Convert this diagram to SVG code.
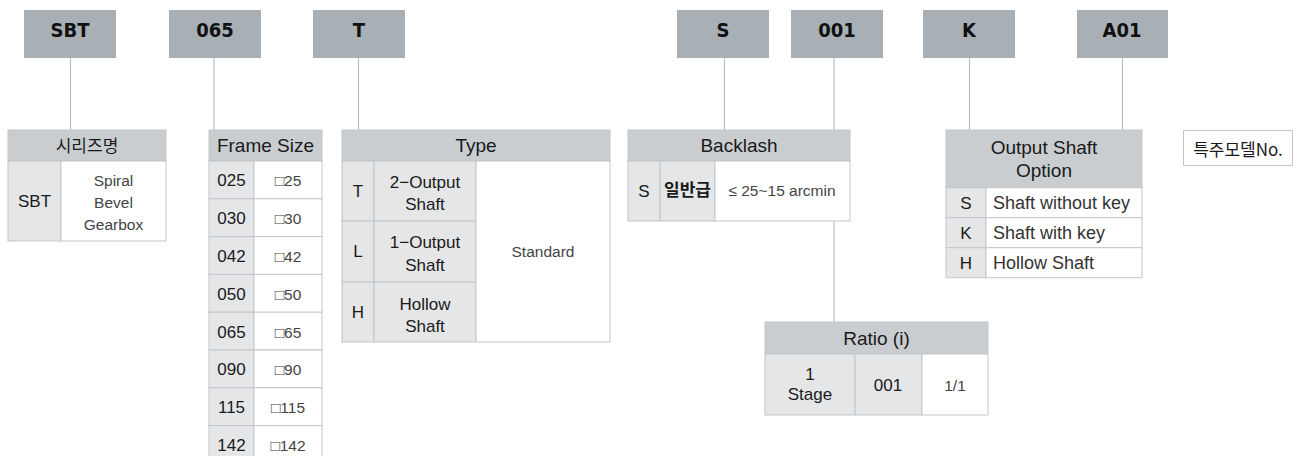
<svg xmlns="http://www.w3.org/2000/svg" width="1297" height="456" viewBox="0 0 1297 456">
<style>
.hb{fill:#a9b0b5}
.ht{font-family:"DejaVu Sans Condensed","DejaVu Sans",sans-serif;font-weight:bold;font-size:20px;fill:#111;text-anchor:middle}
.conn line{stroke:#b8bdc1;stroke-width:1.2}
.th{fill:#c9cdd0;stroke:#c2c6ca;stroke-width:1}
.tk{fill:#e4e6e8;stroke:#c2c6ca;stroke-width:1}
.tw{fill:#ffffff;stroke:#c2c6ca;stroke-width:1}
.h{font-family:"Liberation Sans",Arial,sans-serif;font-size:19px;fill:#1a1a1a;text-anchor:middle}
.k{font-family:"Liberation Sans",Arial,sans-serif;font-size:17px;fill:#1a1a1a;text-anchor:middle}
.l{font-family:"Liberation Sans",Arial,sans-serif;font-size:15.5px;fill:#444;text-anchor:middle}
.kr{font-family:"Noto Sans CJK KR",sans-serif;font-size:17px;fill:#1a1a1a;text-anchor:middle}
.o{font-family:"Liberation Sans",Arial,sans-serif;font-size:18px;fill:#333}
</style>

<g id="hdr-sbt"><rect class="hb" x="24" y="10" width="92" height="48"/><text class="ht" x="70" y="37">SBT</text></g>
<g id="hdr-065"><rect class="hb" x="169" y="10" width="92" height="48"/><text class="ht" x="215" y="37">065</text></g>
<g id="hdr-t"><rect class="hb" x="313" y="10" width="92" height="48"/><text class="ht" x="359" y="37">T</text></g>
<g id="hdr-s"><rect class="hb" x="677" y="10" width="92" height="48"/><text class="ht" x="723" y="37">S</text></g>
<g id="hdr-001"><rect class="hb" x="791" y="10" width="92" height="48"/><text class="ht" x="837" y="37">001</text></g>
<g id="hdr-k"><rect class="hb" x="923" y="10" width="92" height="48"/><text class="ht" x="969" y="37">K</text></g>
<g id="hdr-a01"><rect class="hb" x="1077" y="10" width="91" height="48"/><text class="ht" x="1122" y="37">A01</text></g>

<g class="conn" id="connectors">
<line x1="70.5" y1="58" x2="70.5" y2="130"/>
<line x1="214" y1="58" x2="214" y2="130"/>
<line x1="358.5" y1="58" x2="358.5" y2="130"/>
<line x1="724.5" y1="58" x2="724.5" y2="130"/>
<line x1="834" y1="58" x2="834" y2="322"/>
<line x1="969.5" y1="58" x2="969.5" y2="130"/>
<line x1="1122.5" y1="58" x2="1122.5" y2="130"/>
</g>

<g id="series">
<rect class="th" x="8" y="130" width="158" height="31"/>
<rect class="tk" x="8" y="161" width="53" height="80"/>
<rect class="tw" x="61" y="161" width="105" height="80"/>
<text class="kr" x="87" y="152">시리즈명</text>
<text class="k" x="34.5" y="207">SBT</text>
<text class="l" x="113.5" y="186">Spiral</text>
<text class="l" x="113.5" y="208">Bevel</text>
<text class="l" x="113.5" y="230">Gearbox</text>
</g>

<g id="frame">
<rect class="th" x="209" y="130" width="113" height="31"/>
<rect class="tk" x="209" y="161" width="45" height="37.8"/><rect class="tw" x="254" y="161" width="68" height="37.8"/>
<rect class="tk" x="209" y="198.8" width="45" height="37.8"/><rect class="tw" x="254" y="198.8" width="68" height="37.8"/>
<rect class="tk" x="209" y="236.6" width="45" height="37.8"/><rect class="tw" x="254" y="236.6" width="68" height="37.8"/>
<rect class="tk" x="209" y="274.4" width="45" height="37.8"/><rect class="tw" x="254" y="274.4" width="68" height="37.8"/>
<rect class="tk" x="209" y="312.2" width="45" height="37.8"/><rect class="tw" x="254" y="312.2" width="68" height="37.8"/>
<rect class="tk" x="209" y="350" width="45" height="37.8"/><rect class="tw" x="254" y="350" width="68" height="37.8"/>
<rect class="tk" x="209" y="387.8" width="45" height="37.8"/><rect class="tw" x="254" y="387.8" width="68" height="37.8"/>
<rect class="tk" x="209" y="425.6" width="45" height="37.8"/><rect class="tw" x="254" y="425.6" width="68" height="37.8"/>
<text class="h" x="265.5" y="152">Frame Size</text>
<text class="k" x="231.5" y="186">025</text><text class="l" x="288" y="186">□25</text>
<text class="k" x="231.5" y="224">030</text><text class="l" x="288" y="224">□30</text>
<text class="k" x="231.5" y="262">042</text><text class="l" x="288" y="262">□42</text>
<text class="k" x="231.5" y="299.5">050</text><text class="l" x="288" y="299.5">□50</text>
<text class="k" x="231.5" y="337.5">065</text><text class="l" x="288" y="337.5">□65</text>
<text class="k" x="231.5" y="375">090</text><text class="l" x="288" y="375">□90</text>
<text class="k" x="231.5" y="413">115</text><text class="l" x="288" y="413">□115</text>
<text class="k" x="231.5" y="451">142</text><text class="l" x="288" y="451">□142</text>
</g>

<g id="type">
<rect class="th" x="342" y="130" width="268" height="31"/>
<rect class="tk" x="342" y="161" width="32" height="60"/><rect class="tk" x="374" y="161" width="102" height="60"/>
<rect class="tk" x="342" y="221" width="32" height="61"/><rect class="tk" x="374" y="221" width="102" height="61"/>
<rect class="tk" x="342" y="282" width="32" height="60"/><rect class="tk" x="374" y="282" width="102" height="60"/>
<rect class="tw" x="476" y="161" width="134" height="181"/>
<text class="h" x="476" y="152">Type</text>
<text class="k" x="358" y="197">T</text>
<text class="k" x="425" y="188">2−Output</text><text class="k" x="425" y="210">Shaft</text>
<text class="k" x="358" y="257">L</text>
<text class="k" x="425" y="248">1−Output</text><text class="k" x="425" y="271">Shaft</text>
<text class="k" x="358" y="318">H</text>
<text class="k" x="425" y="310">Hollow</text><text class="k" x="425" y="332">Shaft</text>
<text class="l" x="543" y="257">Standard</text>
</g>

<g id="backlash">
<rect class="th" x="628" y="130" width="222" height="31"/>
<rect class="tk" x="628" y="161" width="32" height="60"/>
<rect class="tk" x="660" y="161" width="55" height="60"/>
<rect class="tw" x="715" y="161" width="135" height="60"/>
<text class="h" x="739" y="152">Backlash</text>
<text class="k" x="644" y="197">S</text>
<text class="kr" x="687.5" y="196" font-weight="bold" font-size="15">일반급</text>
<text class="l" x="782" y="196">≤ 25~15 arcmin</text>
</g>

<g id="option">
<rect class="th" x="946" y="130" width="196" height="57.7"/>
<rect class="tk" x="946" y="187.7" width="40" height="30"/><rect class="tw" x="986" y="187.7" width="156" height="30"/>
<rect class="tk" x="946" y="217.7" width="40" height="30"/><rect class="tw" x="986" y="217.7" width="156" height="30"/>
<rect class="tk" x="946" y="247.7" width="40" height="30"/><rect class="tw" x="986" y="247.7" width="156" height="30"/>
<text class="h" x="1044" y="154">Output Shaft</text>
<text class="h" x="1044" y="177">Option</text>
<text class="k" x="966" y="209" font-size="18">S</text><text class="o" x="993" y="209">Shaft without key</text>
<text class="k" x="966" y="239" font-size="18">K</text><text class="o" x="993" y="239">Shaft with key</text>
<text class="k" x="966" y="269" font-size="18">H</text><text class="o" x="993" y="269">Hollow Shaft</text>
</g>

<g id="special">
<rect x="1183.5" y="130.5" width="109" height="35" fill="#fff" stroke="#c2c6ca" stroke-width="1"/>
<text class="kr" x="1238" y="156" font-size="19.5" fill="#222">특주모델No.</text>
</g>

<g id="ratio">
<rect class="th" x="765" y="322" width="223" height="32"/>
<rect class="tk" x="765" y="354" width="90" height="61"/>
<rect class="tk" x="855" y="354" width="67" height="61"/>
<rect class="tw" x="922" y="354" width="66" height="61"/>
<text class="h" x="876.5" y="345">Ratio (i)</text>
<text class="k" x="810" y="380">1</text>
<text class="k" x="810" y="400">Stage</text>
<text class="k" x="888" y="391">001</text>
<text class="l" x="955" y="391" font-size="14">1/1</text>
</g>
</svg>
